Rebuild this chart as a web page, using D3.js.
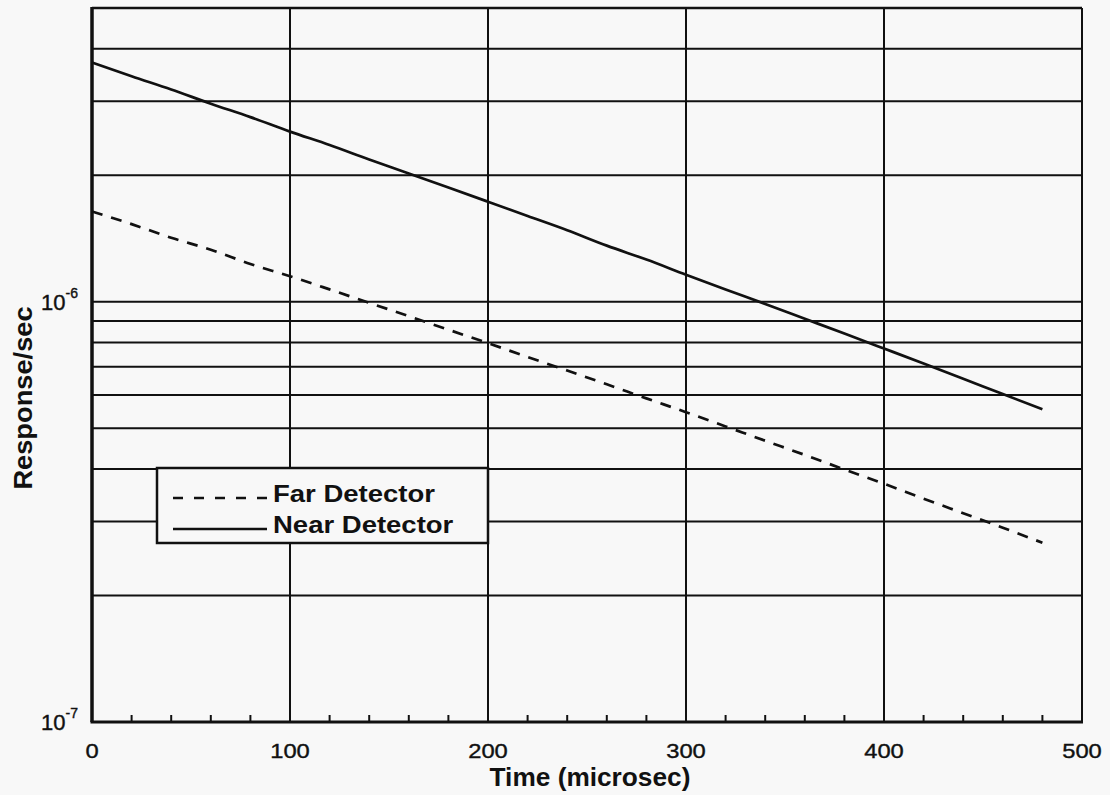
<!DOCTYPE html>
<html>
<head>
<meta charset="utf-8">
<script src="https://cdn.jsdelivr.net/npm/d3@7"></script>
<style>
  body { margin: 0; background: #f8f8f8; }
  text { font-family: "Liberation Sans", Arial, Helvetica, sans-serif; fill: #111; }
</style>
</head>
<body>
<div id="chart"></div>
<script>
var w = 1110;
var h = 795;

// data (time in microsec, response per sec)
var time = [0, 20, 40, 60, 80, 100, 120, 140, 160, 180, 200, 220, 240, 260, 280, 300, 320, 340, 360, 380, 400, 420, 440, 460, 480];
var nearDetector = [3.71e-6, 3.44e-6, 3.20e-6, 2.96e-6, 2.75e-6, 2.54e-6, 2.36e-6, 2.18e-6, 2.02e-6, 1.87e-6, 1.73e-6, 1.60e-6, 1.48e-6, 1.36e-6, 1.26e-6, 1.16e-6, 1.07e-6, 9.88e-7, 9.11e-7, 8.40e-7, 7.74e-7, 7.13e-7, 6.56e-7, 6.03e-7, 5.55e-7];
var farDetector = [1.64e-6, 1.53e-6, 1.42e-6, 1.33e-6, 1.23e-6, 1.15e-6, 1.07e-6, 9.94e-7, 9.24e-7, 8.58e-7, 7.97e-7, 7.39e-7, 6.86e-7, 6.36e-7, 5.89e-7, 5.46e-7, 5.05e-7, 4.67e-7, 4.32e-7, 3.99e-7, 3.69e-7, 3.40e-7, 3.14e-7, 2.90e-7, 2.67e-7];

var xTicks = [0, 100, 200, 300, 400, 500];
var yLabels = [{ value: 1e-7, exp: "-7" }, { value: 1e-6, exp: "-6" }];
var yGrid = [2e-7, 3e-7, 4e-7, 5e-7, 6e-7, 7e-7, 8e-7, 9e-7, 1e-6, 2e-6, 3e-6, 4e-6];

var series = [
	{ name: "Far Detector", values: farDetector, dash: "11,9" },
	{ name: "Near Detector", values: nearDetector, dash: null }
];

var svg = d3.select("#chart")
	.append("svg")
	.attr("width", w)
	.attr("height", h);

svg.append("rect").attr("width", w).attr("height", h).attr("fill", "#f8f8f8");

var x = d3.scaleLinear().domain([0, 500]).range([92, 1082]);
var y = d3.scaleLog().domain([1e-7, 5e-6]).range([722, 8]);

// horizontal grid
svg.selectAll(".hgrid")
	.data(yGrid)
	.enter()
	.append("line")
	.attr("x1", x(0)).attr("x2", x(500))
	.attr("y1", function (d) { return y(d); })
	.attr("y2", function (d) { return y(d); })
	.style("stroke", "#111")
	.style("stroke-width", 2);

// vertical grid
svg.selectAll(".vgrid")
	.data(xTicks.slice(1, -1))
	.enter()
	.append("line")
	.attr("x1", function (d) { return x(d); })
	.attr("x2", function (d) { return x(d); })
	.attr("y1", y(5e-6)).attr("y2", y(1e-7))
	.style("stroke", "#111")
	.style("stroke-width", 2);

// minor ticks on the bottom axis, pointing inward
svg.selectAll(".minor")
	.data(x.ticks(25).filter(function (d) { return d % 100 != 0; }))
	.enter()
	.append("line")
	.attr("x1", function (d) { return x(d); })
	.attr("x2", function (d) { return x(d); })
	.attr("y1", y(1e-7)).attr("y2", y(1e-7) - 7)
	.style("stroke", "#111")
	.style("stroke-width", 2);

// frame
svg.append("line").attr("x1", x(0)).attr("x2", x(500)).attr("y1", y(5e-6)).attr("y2", y(5e-6))
	.style("stroke", "#111").style("stroke-width", 2.5);
svg.append("line").attr("x1", x(500)).attr("x2", x(500)).attr("y1", y(5e-6)).attr("y2", y(1e-7))
	.style("stroke", "#111").style("stroke-width", 2);
svg.append("line").attr("x1", x(0) - 1.5).attr("x2", x(500) + 1).attr("y1", y(1e-7)).attr("y2", y(1e-7))
	.style("stroke", "#111").style("stroke-width", 3);
svg.append("line").attr("x1", x(0)).attr("x2", x(0)).attr("y1", y(5e-6) - 1).attr("y2", y(1e-7))
	.style("stroke", "#111").style("stroke-width", 3.5);

// data lines
var line = d3.line()
	.x(function (d, i) { return x(time[i]); })
	.y(function (d) { return y(d); })
	.curve(d3.curveMonotoneX);

svg.selectAll(".series")
	.data(series)
	.enter()
	.append("path")
	.attr("d", function (d) { return line(d.values); })
	.style("fill", "none")
	.style("stroke", "#111")
	.style("stroke-width", 2.7)
	.style("stroke-dasharray", function (d) { return d.dash; });

// widen text along its reading direction, the original face is broader
function stretch(sel, k) {
	sel.each(function () {
		var len = this.getComputedTextLength();
		d3.select(this).attr("textLength", len * k).attr("lengthAdjust", "spacingAndGlyphs");
	});
}

// x tick labels
svg.selectAll(".xlab")
	.data(xTicks)
	.enter()
	.append("text")
	.attr("x", function (d) { return x(d); })
	.attr("y", 758)
	.attr("text-anchor", "middle")
	.style("font-size", "21px")
	.style("stroke", "#111")
	.style("stroke-width", 0.4)
	.text(function (d) { return d; })
	.call(stretch, 1.13);

// y tick labels, 10 with exponent
var ylab = svg.selectAll(".ylab")
	.data(yLabels)
	.enter()
	.append("text")
	.attr("x", 78)
	.attr("y", function (d) { return y(d.value) + 8; })
	.attr("text-anchor", "end")
	.style("font-size", "22px")
	.style("stroke", "#111")
	.style("stroke-width", 0.4);
ylab.append("tspan").text("10");
ylab.append("tspan")
	.attr("dy", -12)
	.style("font-size", "14px")
	.text(function (d) { return d.exp; });

// axis titles
svg.append("text")
	.attr("x", 590)
	.attr("y", 786)
	.attr("text-anchor", "middle")
	.style("font-size", "25px")
	.style("font-weight", "bold")
	.text("Time (microsec)")
	.call(stretch, 1.05);

svg.append("text")
	.attr("transform", "translate(32,398) rotate(-90)")
	.attr("text-anchor", "middle")
	.style("font-size", "25px")
	.style("font-weight", "bold")
	.text("Response/sec")
	.call(stretch, 1.09);

// legend
var lg = svg.append("g");
lg.append("rect")
	.attr("x", 157).attr("y", 468)
	.attr("width", 331).attr("height", 75)
	.style("fill", "#f8f8f8")
	.style("stroke", "#111")
	.style("stroke-width", 2.5);

var item = lg.selectAll(".item")
	.data(series)
	.enter()
	.append("g")
	.attr("transform", function (d, i) { return "translate(0," + (i * 31) + ")"; });

item.append("line")
	.attr("x1", 173).attr("x2", 267)
	.attr("y1", 498).attr("y2", 498)
	.style("stroke", "#111")
	.style("stroke-width", 2.4)
	.style("stroke-dasharray", function (d) { return d.dash ? "10,11" : null; });

item.append("text")
	.attr("x", 273)
	.attr("y", 502)
	.style("font-size", "23.5px")
	.style("font-weight", "bold")
	.text(function (d) { return d.name; })
	.call(stretch, 1.17);
</script>
</body>
</html>
